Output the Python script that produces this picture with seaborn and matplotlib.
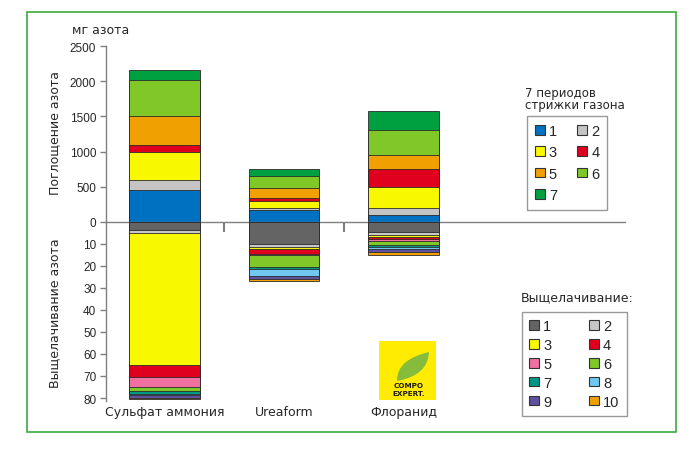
import numpy as np
import matplotlib
matplotlib.use('Agg')
import matplotlib.pyplot as plt
import seaborn as sns
from matplotlib.patches import Patch, Rectangle, PathPatch
from matplotlib.path import Path
from matplotlib import font_manager

# categories (products)
categories = ['Сульфат аммония', 'Ureaform', 'Флоранид']

# nitrogen uptake, mg N, per mowing period 1..7
uptake_labels = ['1', '2', '3', '4', '5', '6', '7']
uptake_sulfate = [450, 150, 400, 90, 410, 520, 140]
uptake_ureaform = [170, 30, 100, 35, 140, 175, 100]
uptake_floranid = [95, 105, 290, 260, 200, 360, 265]

# nitrogen leaching per period 1..10
leach_labels = ['1', '2', '3', '4', '5', '6', '7', '8', '9', '10']
leach_sulfate = [3.8, 1.3, 60.0, 5.3, 4.7, 1.8, 1.2, 0.6, 1.3, 0.6]
leach_ureaform = [10.1, 1.5, 0.9, 2.0, 0.8, 5.2, 1.1, 3.1, 1.1, 1.0]
leach_floranid = [4.8, 1.1, 0.9, 0.9, 0.9, 2.1, 0.9, 0.9, 1.2, 1.3]

uptake_colors = ['#0070C0', '#C4C4C4', '#F8F800', '#E0001E', '#F0A000', '#80C828', '#00A040']
leach_colors = ['#646464', '#C8C8C8', '#F8F800', '#E0001E', '#F070A0', '#80C828',
                '#009884', '#70C8F0', '#6050A0', '#F0A000']

W, H = 700, 456
GRAY = '#808080'


def pick(names):
    avail = {f.name for f in font_manager.fontManager.ttflist}
    for n in names:
        if n in avail:
            return n
    return 'DejaVu Sans'


sns.set_theme(style='white')
plt.rcParams['font.family'] = ['DejaVu Sans']
arial = pick(['Liberation Sans', 'Arial'])
narrow = pick(['Liberation Sans Narrow', 'DejaVu Sans Condensed', 'Liberation Sans'])


def fx(px):
    return px / W


def fy(py):
    return 1 - py / H


def stacked(ax, rows, colors):
    """Stack segments by drawing cumulative totals, tallest first"""
    data = np.array(rows, dtype=float)
    cum = data.cumsum(axis=1)
    for i in range(data.shape[1] - 1, -1, -1):
        sns.barplot(x=categories, y=cum[:, i], color=colors[i], width=0.59,
                    saturation=1, edgecolor='#2a2a2a', linewidth=0.6, ax=ax)


fig = plt.figure(figsize=(W / 100, H / 100), dpi=100)

left, right = 106, 625
zero_y, top_y, bot_y = 222.7, 47.3, 402
leach_max = (bot_y - zero_y) / 2.204
ax_top = fig.add_axes([fx(left), fy(zero_y), fx(right - left), (zero_y - top_y) / H])
ax_bot = fig.add_axes([fx(left), fy(bot_y), fx(right - left), (bot_y - zero_y) / H])

stacked(ax_top, [uptake_sulfate, uptake_ureaform, uptake_floranid], uptake_colors)
stacked(ax_bot, [leach_sulfate, leach_ureaform, leach_floranid], leach_colors)

for ax in (ax_top, ax_bot):
    ax.set_xlim(-0.49, 3.85)
    ax.set_facecolor('none')
    ax.set_xlabel('')
    ax.set_ylabel('')
    for s in ('top', 'right'):
        ax.spines[s].set_visible(False)
    ax.spines['left'].set_color(GRAY)
    ax.spines['left'].set_linewidth(1)
    ax.tick_params(axis='y', left=True, direction='out', length=4, width=1,
                   color=GRAY, pad=3, labelsize=8.5)

ax_top.set_ylim(0, 2500)
ax_top.set_yticks(range(0, 2501, 500))
ax_top.spines['bottom'].set_color(GRAY)
ax_top.spines['bottom'].set_linewidth(1)
ax_top.set_xticks([0.5, 1.5])
ax_top.set_xticklabels([])
ax_top.tick_params(axis='x', bottom=True, direction='out', length=7, width=1.5, color=GRAY)

ax_bot.set_ylim(leach_max, 0)
ax_bot.set_yticks(range(10, 81, 10))
ax_bot.spines['bottom'].set_visible(False)
ax_bot.set_xticks([0, 1, 2])
ax_bot.set_xticklabels(categories, fontsize=9)
ax_bot.tick_params(axis='x', bottom=False, length=0, pad=3)

for ax in (ax_top, ax_bot):
    for t in ax.get_yticklabels():
        t.set_fontfamily(arial)

# axis titles
fig.text(fx(72), fy(30), 'мг азота', fontsize=9, va='center', ha='left')
fig.text(fx(55), fy(133), 'Поглощение азота', fontsize=9, rotation=90, va='center', ha='center')
fig.text(fx(55), fy(313), 'Выщелачивание азота', fontsize=9, rotation=90, va='center', ha='center')

# legend 1: mowing periods
fig.text(fx(525), fy(93), '7 периодов', fontsize=8.5, va='center', ha='left')
fig.text(fx(525), fy(105), 'стрижки газона', fontsize=8.5, va='center', ha='left')
order = [0, 2, 4, 6, 1, 3, 5]
h1 = [Patch(facecolor=uptake_colors[i], edgecolor='#333333', linewidth=0.8) for i in order]
leg1 = fig.legend(h1, [uptake_labels[i] for i in order], ncol=2, loc='upper left',
                  bbox_to_anchor=(fx(527), fy(117)), borderaxespad=0, frameon=True,
                  fancybox=False, edgecolor=GRAY, handlelength=0.65, handleheight=0.65,
                  handletextpad=0.3, labelspacing=0.5, columnspacing=1.4,
                  borderpad=0.55, prop={'family': narrow, 'size': 10.5})
leg1.get_frame().set_linewidth(1)

# legend 2: leaching
fig.text(fx(521), fy(298), 'Выщелачивание:', fontsize=9, va='center', ha='left')
order = [0, 2, 4, 6, 8, 1, 3, 5, 7, 9]
h2 = [Patch(facecolor=leach_colors[i], edgecolor='#333333', linewidth=0.8) for i in order]
leg2 = fig.legend(h2, [leach_labels[i] for i in order], ncol=2, loc='upper left',
                  bbox_to_anchor=(fx(522), fy(313)), borderaxespad=0, frameon=True,
                  fancybox=False, edgecolor=GRAY, handlelength=0.65, handleheight=0.65,
                  handletextpad=0.3, labelspacing=0.33, columnspacing=2.6,
                  borderpad=0.5, prop={'family': narrow, 'size': 10.5})
leg2.get_frame().set_linewidth(1)

# overlay in pixel coordinates: frame and logo
ov = fig.add_axes([0, 0, 1, 1], zorder=10)
ov.set_xlim(0, W)
ov.set_ylim(H, 0)
ov.axis('off')
ov.add_patch(Rectangle((27, 13), 649, 420, fill=False, edgecolor='#3DAA3D', linewidth=1.2))
ov.add_patch(Rectangle((379, 342), 57, 59, facecolor='#FFEC00', edgecolor='none'))
leaf = Path([(397, 382), (397, 366), (409, 358), (429, 353), (428, 369), (418, 378), (397, 382)],
            [Path.MOVETO, Path.CURVE4, Path.CURVE4, Path.CURVE4, Path.CURVE4, Path.CURVE4, Path.CURVE4])
ov.add_patch(PathPatch(leaf, facecolor='#86BC3C', edgecolor='none'))
ov.text(409, 386.5, 'COMPO', fontsize=5.2, fontweight='bold', ha='center', va='center', color='#1a1a1a')
ov.text(409, 394.0, 'EXPERT.', fontsize=5.2, fontweight='bold', ha='center', va='center', color='#1a1a1a')

fig.savefig('out.png', dpi=100)
